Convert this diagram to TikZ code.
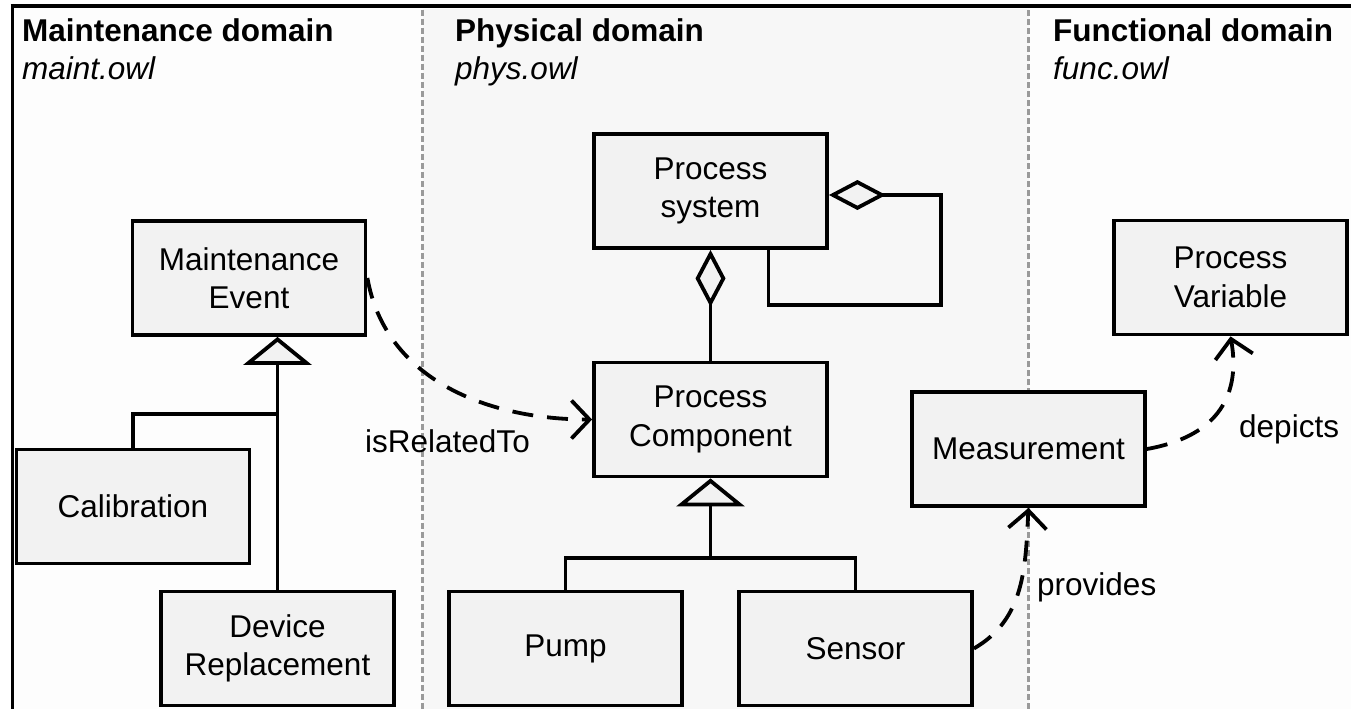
\documentclass[tikz,border=0pt]{standalone}
\usepackage{fontspec}
\setmainfont{Liberation Sans}
\usetikzlibrary{arrows.meta,calc}
\definecolor{boxfill}{HTML}{F2F2F2}
\definecolor{midfill}{HTML}{F7F7F7}
\definecolor{sidefill}{HTML}{FDFDFD}
\definecolor{sepgray}{HTML}{9A9A9A}
\newcommand\boxfont{\fontsize{31.5}{38.5}\selectfont}
\newcommand\hdrfont{\fontsize{31.5}{37}\selectfont}
\tikzset{
  cls/.style={draw=black, line width=3.8pt, fill=boxfill, minimum width=233pt,
    minimum height=114pt, inner sep=0pt, align=center, font=\boxfont},
  conn/.style={draw=black, line width=3.8pt},
  rel/.style={conn, dash pattern=on 21pt off 14pt,
    -{Straight Barb[length=18pt,width=38pt]}},
  gen/.style={conn, {Triangle[fill=boxfill,length=28pt,width=68pt]}-},
  agg/.style={conn, {Diamond[fill=boxfill,length=57pt,width=30pt]}-},
  sep/.style={draw=sepgray, line width=3pt, dash pattern=on 6pt off 3pt},
  hdr/.style={anchor=base west, inner sep=0pt, font=\hdrfont},
  lbl/.style={anchor=base west, inner sep=0pt, font=\boxfont},
}
\begin{document}
\begin{tikzpicture}[x=1pt,y=-1pt]
\useasboundingbox (0,0) rectangle (1351,709);
% page background and the three domain bands
\fill[white] (0,0) rectangle (1351,709);
\fill[sidefill] (12,7) rectangle (1351,709);
\fill[midfill] (422.5,9) rectangle (1028.5,709);
\draw[sep] (422.5,10) -- (422.5,709);
\draw[sep] (1028.5,10) -- (1028.5,709);
% outer frame
\draw[line width=4.5pt] (10.5,6) -- (1351,6);
\draw[line width=3pt] (12.5,4) -- (12.5,709);

% domain headers
\node[hdr] (hm)  at (22,42)   {\bfseries Maintenance domain};
\node[hdr] (hmf) at (22,79)   {\itshape maint.owl};
\node[hdr] (hp)  at (455,42)  {\bfseries Physical domain};
\node[hdr] (hpf) at (455,79)  {\itshape phys.owl};
\node[hdr] (hf)  at (1053,42) {\bfseries Functional domain};
\node[hdr] (hff) at (1053,79) {\itshape func.owl};

% classes
\node[cls] (ME)   at (249,278)     {Maintenance\\Event};
\node[cls] (CAL)  at (133,506.5)   {Calibration};
\node[cls] (DR)   at (277.5,648.5) {Device\\Replacement};
\node[cls] (PS)   at (710.5,191)   {Process\\system};
\node[cls] (PC)   at (710.5,419.5) {Process\\Component};
\node[cls] (PUMP) at (565.5,648.5) {Pump};
\node[cls] (SEN)  at (855.5,648.5) {Sensor};
\node[cls] (MEAS) at (1028.5,449)  {Measurement};
\node[cls] (PV)   at (1230.5,277.5){Process\\Variable};

% generalisation: maintenance events
\coordinate (mj) at (DR.north |- 0,414);
\draw[gen] (ME.south -| DR.north) -- (DR.north);
\draw[conn] (CAL.north) |- (mj);

% aggregation: process system
\coordinate (sl) at (941,305);
\draw[agg] (PS.south) -- (PC.north);
\draw[agg] ([yshift=-4pt]PS.east) -| (sl) -| ([xshift=58pt]PS.south);

% generalisation: process components
\coordinate (pj) at (PC.south |- 0,558);
\draw[gen] (PC.south) -- (pj);
\draw[conn] (PUMP.north) |- (pj) -| (SEN.north);

% cross-domain relations
\draw[rel] (ME.east) to[out=-80,in=180] (PC.west);
\draw[rel] (SEN.east) to[out=30,in=-93] (MEAS.south);
\draw[rel] (MEAS.east) to[out=10,in=-80,looseness=1.2] (PV.south);

\node[lbl] (lrel)  at (365,452)  {isRelatedTo};
\node[lbl] (lprov) at (1037,595) {provides};
\node[lbl] (ldep)  at (1239,437) {depicts};
\end{tikzpicture}
\end{document}
